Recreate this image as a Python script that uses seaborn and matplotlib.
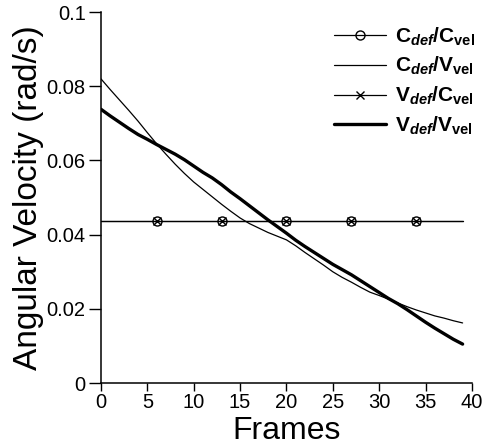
import numpy as np
import pandas as pd
import seaborn as sns
import matplotlib.pyplot as plt

# ---------------------------------------------------------------- data
frames = list(range(40))
cdef_cvel = [0.0437] * 40
vdef_cvel = [0.0437] * 40
cdef_vvel = [0.0820, 0.0791, 0.0763, 0.0735, 0.0706, 0.0675, 0.0645, 0.0617, 0.0590, 0.0565,
             0.0542, 0.0522, 0.0502, 0.0482, 0.0463, 0.0445, 0.0430, 0.0418, 0.0406, 0.0396,
             0.0386, 0.0370, 0.0352, 0.0335, 0.0318, 0.0300, 0.0285, 0.0272, 0.0258, 0.0245,
             0.0236, 0.0226, 0.0216, 0.0206, 0.0197, 0.0189, 0.0181, 0.0175, 0.0168, 0.0162]
vdef_vvel = [0.0738, 0.0720, 0.0703, 0.0686, 0.0670, 0.0657, 0.0643, 0.0630, 0.0617, 0.0602,
             0.0585, 0.0568, 0.0553, 0.0535, 0.0515, 0.0497, 0.0478, 0.0459, 0.0440, 0.0422,
             0.0404, 0.0385, 0.0368, 0.0352, 0.0336, 0.0320, 0.0306, 0.0292, 0.0276, 0.0260,
             0.0244, 0.0228, 0.0214, 0.0198, 0.0181, 0.0164, 0.0148, 0.0133, 0.0118, 0.0105]
marker_frames = [6, 13, 20, 27, 34]
x_ticks = [0, 5, 10, 15, 20, 25, 30, 35, 40]
y_ticks = [0, 0.02, 0.04, 0.06, 0.08, 0.1]
y_ticklabels = ["0", "0.02", "0.04", "0.06", "0.08", "0.1"]

labels = [r"C$_{def}$/C$_{\mathrm{vel}}$", r"C$_{def}$/V$_{\mathrm{vel}}$",
          r"V$_{def}$/C$_{\mathrm{vel}}$", r"V$_{def}$/V$_{\mathrm{vel}}$"]

df = pd.DataFrame({"frame": frames, "cc": cdef_cvel, "cv": cdef_vvel,
                   "vc": vdef_cvel, "vv": vdef_vvel})

# ---------------------------------------------------------------- style
sns.set_style("ticks")
plt.rcParams["font.family"] = ["Liberation Sans", "DejaVu Sans"]
plt.rcParams["mathtext.fontset"] = "custom"
plt.rcParams["mathtext.rm"] = "Liberation Sans:bold"
plt.rcParams["mathtext.it"] = "Liberation Sans:italic:bold"
plt.rcParams["mathtext.bf"] = "Liberation Sans:bold"
plt.rcParams["text.color"] = "black"
plt.rcParams["axes.labelcolor"] = "black"
plt.rcParams["xtick.color"] = "black"
plt.rcParams["ytick.color"] = "black"

fig = plt.figure(figsize=(4.82, 4.48), dpi=100)
ax = fig.add_axes([0.2095, 0.145, 0.7695, 0.828])

mk = [frames.index(f) for f in marker_frames]
sns.lineplot(data=df, x="frame", y="cc", ax=ax, color="black", lw=0.9,
             marker="o", markevery=mk, ms=6.5, mfc="none", mec="black", mew=1.0,
             label=labels[0])
sns.lineplot(data=df, x="frame", y="cv", ax=ax, color="black", lw=0.9, label=labels[1])
sns.lineplot(data=df, x="frame", y="vc", ax=ax, color="black", lw=0.9,
             marker="x", markevery=mk, ms=6, mec="black", mew=1.0, label=labels[2])
sns.lineplot(data=df, x="frame", y="vv", ax=ax, color="black", lw=2.4, label=labels[3])

ax.set_xlim(0, 40)
ax.set_ylim(0, 0.1)
ax.set_xticks(x_ticks)
ax.set_yticks(y_ticks)
ax.set_yticklabels(y_ticklabels)
ax.tick_params(labelsize=14.5, width=1, color="black", labelcolor="black")
ax.tick_params(axis="x", length=6, pad=1)
ax.tick_params(axis="y", length=9, pad=2)
ax.set_xlabel("Frames", fontsize=23, labelpad=3, color="black")
ax.set_ylabel("Angular Velocity (rad/s)", fontsize=24, labelpad=2, color="black")
sns.despine(ax=ax)
for s in ["left", "bottom"]:
    ax.spines[s].set_linewidth(1.1)
    ax.spines[s].set_color("black")

leg = ax.legend(loc="upper right", bbox_to_anchor=(1.058, 1.015), frameon=False,
                fontsize=15, handlelength=2.5, handletextpad=0.4, labelspacing=0.36,
                numpoints=1)
for t in leg.get_texts():
    t.set_fontweight("bold")
    t.set_color("black")

fig.savefig("out.png", dpi=100)
